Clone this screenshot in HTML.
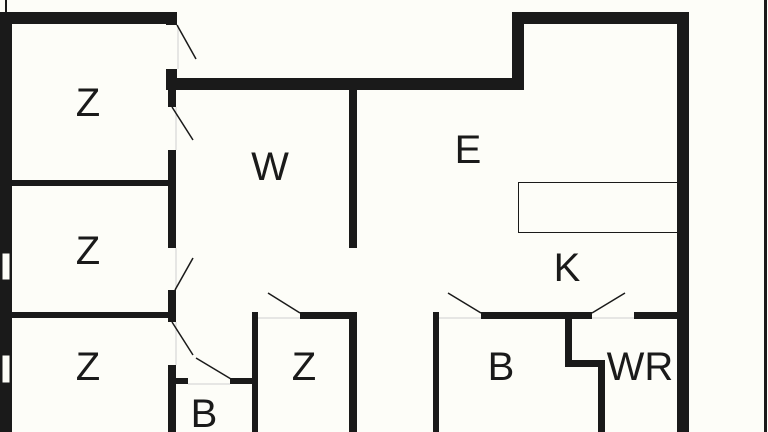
<!DOCTYPE html>
<html><head><meta charset="utf-8"><style>
html,body{margin:0;padding:0;background:#fdfdf8;}
svg{display:block}
text{font-family:"Liberation Sans",Arial,sans-serif;font-size:40px;fill:#1a1a1a;text-anchor:middle;dominant-baseline:central}
</style></head><body>
<svg width="768" height="432" viewBox="0 0 768 432" xmlns="http://www.w3.org/2000/svg">
<rect width="768" height="432" fill="#fdfdf8"/>
<g fill="#1a1a1a">
<!-- left outer wall -->
<rect x="0" y="12" width="12" height="420"/>
<rect x="5" y="0" width="2" height="12"/>
<!-- top wall left -->
<rect x="0" y="12" width="177" height="12"/>
<rect x="166" y="12" width="11" height="13"/>
<!-- block & top wall 2 -->
<rect x="166" y="69" width="11" height="21"/>
<rect x="166" y="78" width="358" height="12"/>
<rect x="512" y="12" width="12" height="78"/>
<rect x="512" y="12" width="177" height="12"/>
<rect x="677" y="12" width="12" height="420"/>
<rect x="764" y="0" width="3" height="432"/>
<!-- left center vertical wall -->
<rect x="168" y="90" width="8" height="17"/>
<rect x="168" y="150" width="8" height="98"/>
<rect x="168" y="290" width="8" height="32"/>
<rect x="168" y="365" width="8" height="67"/>
<!-- horizontal room walls -->
<rect x="12" y="180" width="158" height="6"/>
<rect x="12" y="312" width="158" height="6"/>
<!-- W wall -->
<rect x="349" y="90" width="8" height="158"/>
<!-- small B -->
<rect x="172" y="378" width="16" height="6"/>
<rect x="230" y="378" width="26" height="6"/>
<rect x="252" y="312" width="6" height="120"/>
<rect x="252" y="312" width="6" height="7"/>
<rect x="300" y="312" width="57" height="7"/>
<rect x="349" y="312" width="8" height="120"/>
<!-- right rooms -->
<rect x="433" y="312" width="6" height="120"/>
<rect x="481" y="312" width="111" height="7"/>
<rect x="634" y="312" width="43" height="7"/>
<rect x="565" y="312" width="7" height="55"/>
<rect x="565" y="360" width="40" height="7"/>
<rect x="598" y="360" width="7" height="72"/>
</g>
<!-- windows -->
<rect x="2" y="253" width="8" height="27" fill="#fdfdf8" stroke="#1a1a1a" stroke-width="1"/>
<rect x="2" y="355" width="8" height="28" fill="#fdfdf8" stroke="#1a1a1a" stroke-width="1"/>
<!-- counter -->
<rect x="518.5" y="182.5" width="159" height="50" fill="none" stroke="#1a1a1a" stroke-width="1"/>
<!-- door sills -->
<g stroke="#d0d0d0" stroke-width="1">
<line x1="178" y1="25" x2="178" y2="69"/>
<line x1="176" y1="107" x2="176" y2="150"/>
<line x1="176" y1="248" x2="176" y2="290"/>
<line x1="176" y1="322" x2="176" y2="365"/>
<line x1="188" y1="384" x2="230" y2="384"/>
<line x1="258" y1="318" x2="300" y2="318"/>
<line x1="439" y1="318" x2="481" y2="318"/>
<line x1="592" y1="318" x2="634" y2="318"/>
</g>
<!-- door swings -->
<g stroke="#1a1a1a" stroke-width="1.5">
<line x1="177" y1="25" x2="196" y2="59"/>
<line x1="172" y1="107" x2="193" y2="140"/>
<line x1="175" y1="290" x2="193" y2="258"/>
<line x1="172" y1="322" x2="193" y2="355"/>
<line x1="196" y1="358" x2="231" y2="379"/>
<line x1="268" y1="293" x2="300" y2="313"/>
<line x1="448" y1="293" x2="481" y2="313"/>
<line x1="592" y1="313" x2="625" y2="293"/>
</g>
<text x="88" y="103">Z</text>
<text x="88" y="251">Z</text>
<text x="88" y="367">Z</text>
<text x="270" y="167">W</text>
<text x="304" y="367">Z</text>
<text x="204" y="414">B</text>
<text x="468" y="150">E</text>
<text x="567" y="268">K</text>
<text x="501" y="367">B</text>
<text x="640" y="367">WR</text>
</svg>
</body></html>
